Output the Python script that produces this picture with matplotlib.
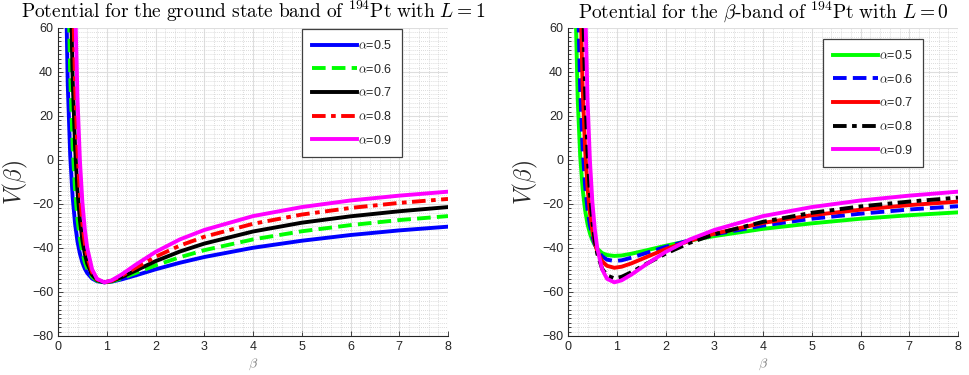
import matplotlib
matplotlib.use("Agg")
import matplotlib.pyplot as plt
from matplotlib.ticker import MultipleLocator

plt.rcParams['mathtext.fontset'] = 'cm'
plt.rcParams['font.family'] = ['Liberation Sans', 'DejaVu Sans']

# deformation grid
beta = [0.15, 0.2, 0.25, 0.3, 0.35, 0.4, 0.45, 0.5, 0.55, 0.6, 0.7, 0.8, 0.95,
        1.1, 1.3, 1.6, 2, 2.5, 3, 4, 5, 6, 7, 8]

alphas = ["0.5", "0.6", "0.7", "0.8", "0.9"]

# ground state band, L = 1
gsb_a05 = [94.9, 34.5, 2.36, -16.7, -28.9, -37.1, -42.6, -46.6, -49.4, -51.4, -53.9, -55.1, -55.6,
           -55.3, -54.3, -52.4, -49.7, -46.7, -44.1, -39.9, -36.7, -34.1, -32.0, -30.3]
gsb_a06 = [206, 95.4, 38.9, 6.3, -13.8, -27.0, -35.9, -42.1, -46.4, -49.4, -53.1, -54.9, -55.6,
           -55.2, -53.8, -51.3, -47.9, -44.2, -41.0, -36.1, -32.4, -29.6, -27.3, -25.5]
gsb_a07 = [373, 182.6, 89.4, 37.4, 5.95, -14.1, -27.4, -36.4, -42.7, -47.1, -52.2, -54.6, -55.6,
           -55.0, -53.3, -50.2, -46.0, -41.6, -38.0, -32.5, -28.5, -25.6, -23.3, -21.4]
gsb_a08 = [642, 316.8, 164.2, 82.0, 33.8, 3.7, -15.9, -28.9, -37.8, -44.0, -51.1, -54.3, -55.6,
           -54.9, -52.7, -48.9, -44.0, -38.9, -34.9, -29.0, -24.8, -21.8, -19.5, -17.7]
gsb_a09 = [1077, 523, 275, 146, 72.6, 27.9, -0.4, -19.1, -31.5, -40.0, -49.7, -54.0, -55.6,
           -54.7, -52.1, -47.5, -41.8, -36.1, -31.8, -25.5, -21.4, -18.4, -16.2, -14.4]

# beta band, L = 0
bb_a05 = [74.4, 27.1, 1.85, -13.1, -22.7, -29.1, -33.4, -36.5, -38.7, -40.3, -42.3, -43.2, -43.6,
          -43.4, -42.6, -41.1, -39.0, -36.6, -34.6, -31.3, -28.8, -26.7, -25.1, -23.8]
bb_a06 = [170, 78.8, 32.1, 5.2, -11.4, -22.3, -29.6, -34.8, -38.3, -40.8, -43.8, -45.3, -45.9,
          -45.6, -44.4, -42.3, -39.5, -36.5, -33.8, -29.8, -26.7, -24.4, -22.5, -21.0]
bb_a07 = [329, 160.9, 78.8, 33.0, 5.2, -12.4, -24.1, -32.1, -37.6, -41.5, -46.0, -48.1, -49.0,
          -48.5, -47.0, -44.2, -40.5, -36.7, -33.5, -28.6, -25.1, -22.6, -20.5, -18.9]
bb_a08 = [621, 306.5, 158.9, 79.3, 32.7, 3.6, -15.4, -28.0, -36.6, -42.6, -49.4, -52.5, -53.8,
          -53.1, -51.0, -47.3, -42.6, -37.6, -33.8, -28.1, -24.0, -21.1, -18.9, -17.1]
bb_a09 = [1077, 523, 275, 146, 72.6, 27.9, -0.4, -19.1, -31.5, -40.0, -49.7, -54.0, -55.6,
          -54.7, -52.1, -47.5, -41.8, -36.1, -31.8, -25.5, -21.4, -18.4, -16.2, -14.4]

gsb_series = [gsb_a05, gsb_a06, gsb_a07, gsb_a08, gsb_a09]
bb_series = [bb_a05, bb_a06, bb_a07, bb_a08, bb_a09]

gsb_colors = ["#0000ff", "#00ff00", "#000000", "#ff0000", "#ff00ff"]
gsb_styles = ["-", (0, (3.5, 1.6)), "-", (0, (3.5, 1.4, 1.2, 1.4)), "-"]
bb_colors = ["#00ff00", "#0000ff", "#ff0000", "#000000", "#ff00ff"]
bb_styles = ["-", (0, (3.5, 1.6)), "-", (0, (3.5, 1.4, 1.2, 1.4)), "-"]

fig = plt.figure(figsize=(9.69, 3.75), dpi=100)
W, H = 969, 375
ax1 = fig.add_axes([58 / W, 1 - 336 / H, 390 / W, 308 / H])
ax2 = fig.add_axes([568 / W, 1 - 336 / H, 390 / W, 308 / H])

tick_col = "#262626"


def style_axes(ax):
    ax.set_xlim(0, 8)
    ax.set_ylim(-80, 60)
    ax.xaxis.set_major_locator(MultipleLocator(1))
    ax.yaxis.set_major_locator(MultipleLocator(20))
    ax.xaxis.set_minor_locator(MultipleLocator(0.2))
    ax.yaxis.set_minor_locator(MultipleLocator(2))
    ax.grid(True, which="major", color="#dedede", linewidth=0.8, linestyle="-")
    ax.grid(True, which="minor", color="#d0d0d0", linewidth=0.6, linestyle=(0, (1, 1.5)))
    ax.set_axisbelow(True)
    for s in ("top", "right"):
        ax.spines[s].set_visible(False)
    for s in ("left", "bottom"):
        ax.spines[s].set_color(tick_col)
        ax.spines[s].set_linewidth(0.8)
    ax.tick_params(which="both", direction="in", colors=tick_col, labelsize=9, width=0.6)
    ax.tick_params(which="major", length=3.5)
    ax.tick_params(which="minor", length=2)
    ax.tick_params(axis="x", which="minor", bottom=False)
    ax.set_xlabel(r"$\beta$", fontsize=10, color="#7f7f7f", labelpad=3)
    ax.set_ylabel(r"$V(\beta)$", fontsize=17, color=tick_col)
    ax.yaxis.set_label_coords(-0.072, 0.5)


for ax, series, colors, styles in ((ax1, gsb_series, gsb_colors, gsb_styles),
                                   (ax2, bb_series, bb_colors, bb_styles)):
    for vals, c, ls, a in zip(series, colors, styles, alphas):
        ax.plot(beta, vals, color=c, linestyle=ls, linewidth=2.8, label=r"$\alpha$=" + a)
    style_axes(ax)

ax1.set_title(r"$\mathrm{Potential\ for\ the\ ground\ state\ band\ of\ {}^{194}Pt\ with\ }L=1$",
              fontsize=14, pad=7.5)
ax2.set_title(r"$\mathrm{Potential\ for\ the\ }\beta\mathrm{\text{-}band\ of\ {}^{194}Pt\ with\ }L=0$",
              fontsize=14, pad=7.5)

leg_kw = dict(loc="upper left", fontsize=9, handlelength=3.6, handletextpad=0.1,
              labelspacing=0.85, borderpad=0.8, fancybox=False, framealpha=1,
              edgecolor="#404040", borderaxespad=0)
l1 = ax1.legend(bbox_to_anchor=((302 - 58) / 390, (336 - 29) / 308), **leg_kw)
l2 = ax2.legend(bbox_to_anchor=((823 - 568) / 390, (336 - 39) / 308), **leg_kw)
for lg in (l1, l2):
    lg.get_frame().set_linewidth(0.9)
    for t in lg.get_texts():
        t.set_color(tick_col)

fig.savefig("out.png", dpi=100)
